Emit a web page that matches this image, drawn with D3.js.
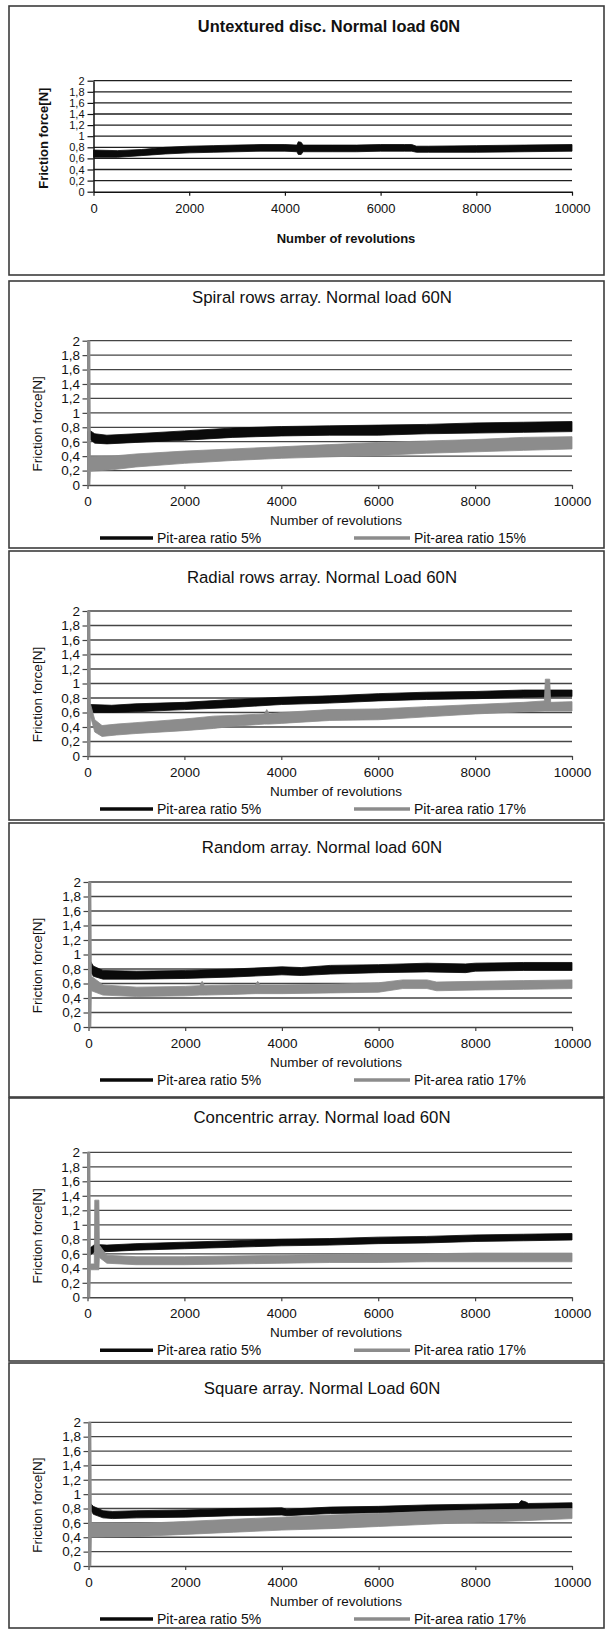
<!DOCTYPE html>
<html>
<head>
<meta charset="utf-8">
<script src="https://cdn.jsdelivr.net/npm/d3@7"></script>
<style>
  html, body { margin: 0; padding: 0; background: #fff; }
  svg { display: block; font-family: "Liberation Sans", Arial, sans-serif; }
</style>
</head>
<body>
<svg id="chart" width="606" height="1629"></svg>
<script>
// Tick values shared by every panel
const xTicks = [0, 2000, 4000, 6000, 8000, 10000];
const yTicks = [0, 0.2, 0.4, 0.6, 0.8, 1, 1.2, 1.4, 1.6, 1.8, 2];

// Each series is a noisy friction band: [revolutions, lower edge, upper edge]
const untextured = [
    [0, 0.62, 0.75], [500, 0.62, 0.74], [1000, 0.65, 0.76], [1500, 0.68, 0.80],
    [2000, 0.70, 0.82], [2500, 0.71, 0.83], [3000, 0.72, 0.84], [3500, 0.73, 0.85],
    [4000, 0.73, 0.85], [4250, 0.72, 0.84], [4280, 0.67, 0.90], [4340, 0.67, 0.89],
    [4380, 0.72, 0.84], [5000, 0.72, 0.84], [5500, 0.72, 0.84], [6000, 0.73, 0.85],
    [6500, 0.73, 0.85], [6650, 0.73, 0.85], [6750, 0.71, 0.82], [7000, 0.71, 0.82],
    [8000, 0.71, 0.83], [9000, 0.72, 0.84], [10000, 0.73, 0.85]
];

const spiral5 = [
    [0, 0.62, 0.74], [40, 0.64, 0.76], [150, 0.58, 0.71], [400, 0.57, 0.69],
    [1000, 0.59, 0.71], [2000, 0.62, 0.75], [3000, 0.66, 0.79], [4000, 0.68, 0.81],
    [5000, 0.69, 0.82], [6000, 0.69, 0.83], [7000, 0.71, 0.84], [8000, 0.72, 0.86],
    [9000, 0.73, 0.87], [10000, 0.74, 0.88]
];
const spiral15 = [
    [0, 0, 2], [50, 0, 2], [60, 0.19, 0.39], [500, 0.21, 0.40], [1000, 0.25, 0.43],
    [2000, 0.30, 0.47], [3000, 0.34, 0.50], [4000, 0.37, 0.53], [5000, 0.39, 0.56],
    [6000, 0.41, 0.59], [7000, 0.44, 0.61], [8000, 0.46, 0.63], [9000, 0.48, 0.66],
    [10000, 0.50, 0.67]
];

const radial5 = [
    [60, 0.60, 0.71], [500, 0.60, 0.70], [1000, 0.61, 0.72], [2000, 0.64, 0.74],
    [3000, 0.67, 0.78], [4000, 0.71, 0.81], [5000, 0.73, 0.83], [6000, 0.76, 0.86],
    [7000, 0.78, 0.88], [8000, 0.79, 0.89], [9000, 0.81, 0.91], [10000, 0.82, 0.91]
];
const radial17 = [
    [0, 0, 2], [50, 0, 2], [60, 0.55, 0.72], [150, 0.33, 0.50], [300, 0.27, 0.42],
    [600, 0.29, 0.44], [1000, 0.31, 0.46], [2000, 0.35, 0.51], [2600, 0.38, 0.55],
    [3000, 0.41, 0.56], [3650, 0.44, 0.58], [3700, 0.44, 0.64], [3750, 0.44, 0.58],
    [4000, 0.45, 0.60], [5000, 0.49, 0.64], [6000, 0.50, 0.65], [7000, 0.54, 0.68],
    [8000, 0.58, 0.71], [9000, 0.61, 0.74], [9430, 0.62, 0.76], [9450, 0.62, 1.06],
    [9540, 0.62, 1.06], [9560, 0.62, 0.74], [10000, 0.62, 0.75]
];

const random5 = [
    [30, 0.78, 0.92], [100, 0.70, 0.84], [300, 0.66, 0.78], [1000, 0.66, 0.77],
    [2000, 0.67, 0.78], [3000, 0.69, 0.80], [4000, 0.72, 0.83], [4400, 0.71, 0.82],
    [5000, 0.73, 0.85], [6000, 0.75, 0.86], [7000, 0.76, 0.88], [7800, 0.75, 0.87],
    [8000, 0.77, 0.88], [9000, 0.78, 0.89], [10000, 0.78, 0.89]
];
const random17 = [
    [0, 0, 2], [50, 0, 2], [60, 0.50, 0.70], [300, 0.44, 0.58], [1000, 0.42, 0.55],
    [2000, 0.43, 0.56], [2300, 0.44, 0.57], [2350, 0.44, 0.63], [2400, 0.44, 0.57],
    [3000, 0.45, 0.58], [3450, 0.46, 0.58], [3500, 0.46, 0.63], [3550, 0.46, 0.58],
    [4000, 0.46, 0.58], [5000, 0.47, 0.59], [6000, 0.48, 0.61], [6500, 0.53, 0.65],
    [7000, 0.53, 0.65], [7200, 0.50, 0.62], [8000, 0.51, 0.63], [9000, 0.52, 0.64],
    [10000, 0.53, 0.65]
];

const concentric5 = [
    [50, 0.58, 0.68], [150, 0.63, 0.73], [400, 0.63, 0.72], [1000, 0.65, 0.74],
    [2000, 0.67, 0.76], [3000, 0.69, 0.78], [4000, 0.71, 0.80], [5000, 0.72, 0.81],
    [6000, 0.74, 0.83], [7000, 0.75, 0.84], [8000, 0.77, 0.86], [9000, 0.78, 0.87],
    [10000, 0.79, 0.88]
];
const concentric17 = [
    [0, 0, 2], [50, 0, 2], [60, 0.38, 0.46], [140, 0.38, 0.46], [150, 0.38, 1.34],
    [235, 0.38, 1.34], [245, 0.55, 0.72], [400, 0.47, 0.58], [1000, 0.45, 0.56],
    [2000, 0.45, 0.56], [3000, 0.46, 0.57], [4000, 0.47, 0.58], [5000, 0.48, 0.59],
    [6000, 0.48, 0.60], [7000, 0.49, 0.60], [8000, 0.49, 0.61], [9000, 0.49, 0.61],
    [10000, 0.49, 0.61]
];

const square5 = [
    [30, 0.80, 0.88], [100, 0.72, 0.83], [300, 0.67, 0.77], [500, 0.66, 0.76],
    [1000, 0.67, 0.77], [2000, 0.68, 0.78], [3000, 0.70, 0.80], [4000, 0.71, 0.81],
    [4100, 0.70, 0.79], [5000, 0.73, 0.82], [6000, 0.74, 0.83], [7000, 0.76, 0.85],
    [8000, 0.77, 0.86], [8900, 0.79, 0.87], [8950, 0.79, 0.91], [9050, 0.79, 0.89],
    [9100, 0.79, 0.87], [10000, 0.80, 0.88]
];
const square17 = [
    [0, 0, 2], [50, 0, 2], [60, 0.40, 0.60], [1000, 0.41, 0.59], [2000, 0.44, 0.62],
    [3000, 0.47, 0.65], [4000, 0.50, 0.68], [5000, 0.52, 0.71], [6000, 0.55, 0.73],
    [7000, 0.58, 0.76], [8000, 0.61, 0.78], [9000, 0.63, 0.79], [10000, 0.66, 0.80]
];

const BLACK = '#0a0a0a';
const GREY = '#8c8c8c';

// Panel layout (pixel positions of each framed chart)
const panels = [
    { title: 'Untextured disc. Normal load 60N', bold: true,
      top: 6, bottom: 275, titleY: 26, plotTop: 80.7, zero: 191.7, x0: 93.5,
      series: [{ data: untextured, color: BLACK }] },
    { title: 'Spiral rows array. Normal load 60N',
      top: 281, bottom: 548, titleY: 297, plotTop: 340.7, zero: 485, x0: 87.5,
      series: [{ data: spiral5, color: BLACK, name: 'Pit-area ratio 5%' },
               { data: spiral15, color: GREY, name: 'Pit-area ratio 15%' }] },
    { title: 'Radial rows array. Normal Load 60N',
      top: 551, bottom: 820, titleY: 577, plotTop: 611, zero: 756, x0: 87.5,
      series: [{ data: radial5, color: BLACK, name: 'Pit-area ratio 5%' },
               { data: radial17, color: GREY, name: 'Pit-area ratio 17%' }] },
    { title: 'Random array. Normal load 60N',
      top: 823, bottom: 1097, titleY: 847, plotTop: 882, zero: 1027, x0: 88.5,
      series: [{ data: random5, color: BLACK, name: 'Pit-area ratio 5%' },
               { data: random17, color: GREY, name: 'Pit-area ratio 17%' }] },
    { title: 'Concentric array. Normal load 60N',
      top: 1098, bottom: 1361, titleY: 1117, plotTop: 1152.3, zero: 1297.3, x0: 87.5,
      series: [{ data: concentric5, color: BLACK, name: 'Pit-area ratio 5%' },
               { data: concentric17, color: GREY, name: 'Pit-area ratio 17%' }] },
    { title: 'Square array. Normal Load 60N',
      top: 1363, bottom: 1628, titleY: 1388, plotTop: 1422.3, zero: 1566, x0: 88.5,
      series: [{ data: square5, color: BLACK, name: 'Pit-area ratio 5%' },
               { data: square17, color: GREY, name: 'Pit-area ratio 17%' }] }
];

const svg = d3.select('#chart');
const commaFormat = d => String(d).replace('.', ',');

panels.forEach(p => drawPanel(p));

function drawPanel(p) {
    const g = svg.append('g');
    const x1 = 572;
    const bold = !!p.bold;

    // frame
    g.append('rect')
        .attr('x', 9).attr('y', p.top)
        .attr('width', 595).attr('height', p.bottom - p.top)
        .attr('fill', '#fff')
        .attr('stroke', '#3c3c3c')
        .attr('stroke-width', 1.6);

    const x = d3.scaleLinear().domain([0, 10000]).range([p.x0, x1]);
    const y = d3.scaleLinear().domain([0, 2]).range([p.zero, p.plotTop]);

    // title
    g.append('text')
        .attr('x', bold ? 329 : 322)
        .attr('y', p.titleY)
        .attr('dy', '0.35em')
        .attr('text-anchor', 'middle')
        .attr('font-size', bold ? 16.4 : 16.8)
        .attr('font-weight', bold ? 'bold' : 'normal')
        .attr('fill', '#111')
        .text(p.title);

    // horizontal gridlines
    g.append('g')
        .selectAll('line')
        .data(yTicks.filter(v => v > 0))
        .join('line')
        .attr('x1', p.x0).attr('x2', x1)
        .attr('y1', d => y(d)).attr('y2', d => y(d))
        .attr('stroke', bold ? '#1e1e1e' : '#454545')
        .attr('stroke-width', 1.3);

    // y axis (first panel is squeezed, so its labels are smaller)
    const yAxis = g.append('g')
        .attr('transform', `translate(${p.x0},0)`)
        .call(d3.axisLeft(y).tickValues(yTicks).tickFormat(commaFormat)
            .tickSize(bold ? 6 : 5).tickSizeOuter(0).tickPadding(bold ? 3 : 2.5));
    yAxis.selectAll('.tick text').attr('font-size', bold ? 11 : 13.5);

    // x axis
    const xAxis = g.append('g')
        .attr('transform', `translate(0,${p.zero})`)
        .call(d3.axisBottom(x).tickValues(xTicks).tickFormat(d3.format('d'))
            .tickSize(4).tickSizeOuter(0).tickPadding(bold ? 7.8 : 7.3));
    xAxis.selectAll('.tick text').attr('font-size', bold ? 13 : 13.5);

    [yAxis, xAxis].forEach(ax => {
        ax.select('.domain').attr('stroke', bold ? '#111' : '#444').attr('stroke-width', 1.5);
        ax.selectAll('.tick line').attr('stroke', bold ? '#111' : '#444').attr('stroke-width', 1.2);
        ax.selectAll('.tick text')
            .attr('font-family', '"Liberation Sans", Arial, sans-serif')
            .attr('fill', '#111');
    });

    // data bands
    const area = d3.area()
        .x(d => x(d[0]))
        .y0(d => y(d[1]))
        .y1(d => y(d[2]));

    g.append('g')
        .selectAll('path')
        .data(p.series)
        .join('path')
        .attr('d', s => area(s.data))
        .attr('fill', s => s.color)
        .attr('stroke', s => s.color)
        .attr('stroke-width', 0.8)
        .attr('stroke-linejoin', 'round');

    // axis titles
    g.append('text')
        .attr('transform', `translate(${bold ? 43 : 37},${(p.plotTop + p.zero) / 2 + (bold ? 2 : 11)}) rotate(-90)`)
        .attr('dy', '0.35em')
        .attr('text-anchor', 'middle')
        .attr('font-size', bold ? 13 : 13.5)
        .attr('font-weight', bold ? 'bold' : 'normal')
        .attr('fill', '#111')
        .text('Friction force[N]');

    g.append('text')
        .attr('x', bold ? 346 : 336)
        .attr('y', p.zero + (bold ? 46.5 : 35))
        .attr('dy', '0.35em')
        .attr('text-anchor', 'middle')
        .attr('font-size', bold ? 13 : 13.5)
        .attr('font-weight', bold ? 'bold' : 'normal')
        .attr('fill', '#111')
        .text('Number of revolutions');

    // legend
    if (p.series.length > 1) {
        const legendY = p.zero + 53;
        const slots = [{ x: 100, w: 53 }, { x: 354, w: 56 }];
        const items = g.append('g')
            .selectAll('g')
            .data(p.series)
            .join('g')
            .attr('transform', (s, i) => `translate(${slots[i].x},${legendY})`);

        items.append('line')
            .attr('x1', 0).attr('x2', (s, i) => slots[i].w)
            .attr('stroke', s => s.color)
            .attr('stroke-width', 3.5);

        items.append('text')
            .attr('x', (s, i) => slots[i].w + 4)
            .attr('dy', '0.35em')
            .attr('font-size', 14)
            .attr('fill', '#111')
            .text(s => s.name);
    }
}
</script>
</body>
</html>
